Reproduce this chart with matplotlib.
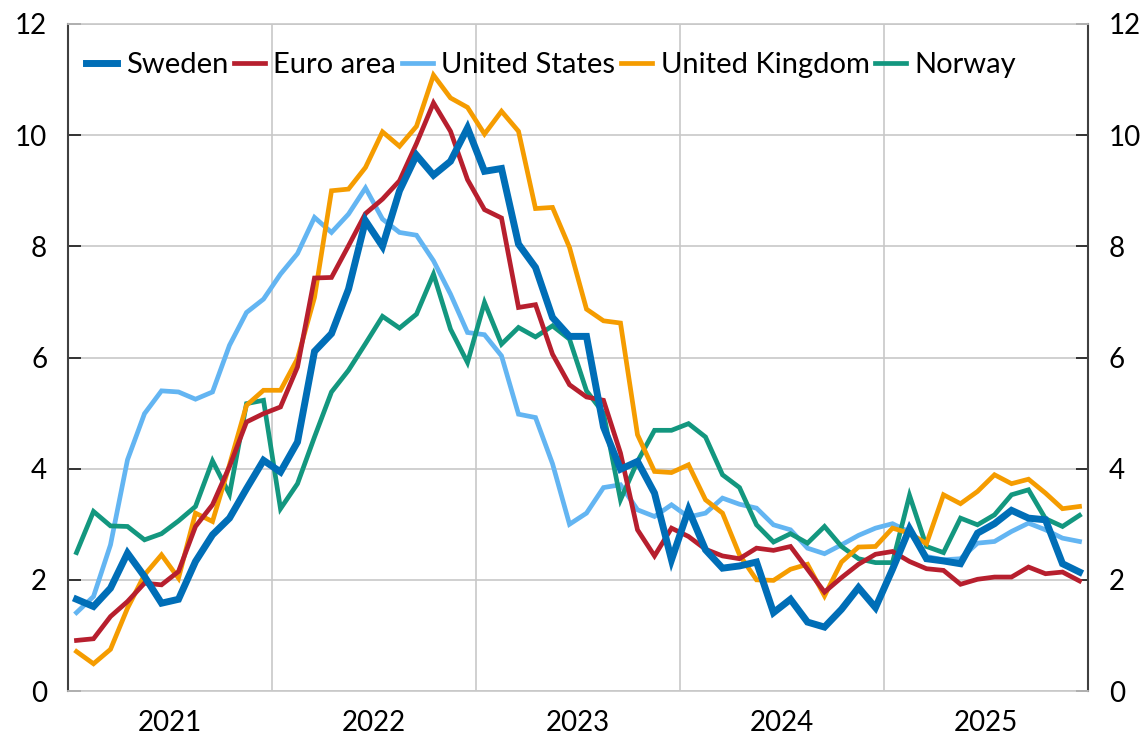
import matplotlib
matplotlib.use("Agg")
import matplotlib.pyplot as plt
import numpy as np

years = ["2021", "2022", "2023", "2024", "2025"]

sweden = [1.65, 1.52, 1.85, 2.48, 2.06, 1.58, 1.65, 2.33, 2.81, 3.11, 3.64, 4.15,
          3.94, 4.48, 6.11, 6.43, 7.23, 8.46, 8.00, 9.00, 9.64, 9.28, 9.53, 10.13,
          9.35, 9.40, 8.04, 7.62, 6.72, 6.38, 6.38, 4.75, 3.99, 4.13, 3.56, 2.36,
          3.26, 2.54, 2.21, 2.25, 2.32, 1.41, 1.65, 1.24, 1.15, 1.47, 1.86, 1.50,
          2.19, 2.92, 2.38, 2.34, 2.29, 2.84, 3.01, 3.25, 3.11, 3.08, 2.29, 2.14]

euro_area = [0.91, 0.94, 1.34, 1.61, 1.94, 1.91, 2.15, 2.96, 3.35, 4.04, 4.84, 4.99,
             5.11, 5.83, 7.43, 7.44, 8.01, 8.59, 8.85, 9.18, 9.85, 10.58, 10.07, 9.20,
             8.66, 8.51, 6.90, 6.95, 6.06, 5.51, 5.29, 5.23, 4.28, 2.90, 2.43, 2.93,
             2.78, 2.55, 2.43, 2.38, 2.57, 2.53, 2.60, 2.19, 1.78, 2.04, 2.28, 2.46,
             2.51, 2.33, 2.20, 2.17, 1.92, 2.01, 2.05, 2.05, 2.23, 2.11, 2.14, 1.98]

united_states = [1.41, 1.70, 2.63, 4.16, 4.99, 5.40, 5.38, 5.25, 5.38, 6.22, 6.81, 7.05,
                 7.50, 7.87, 8.52, 8.25, 8.58, 9.05, 8.49, 8.25, 8.20, 7.74, 7.14, 6.45,
                 6.41, 6.03, 4.98, 4.92, 4.09, 3.00, 3.20, 3.66, 3.71, 3.26, 3.14, 3.35,
                 3.13, 3.20, 3.47, 3.36, 3.29, 2.99, 2.90, 2.57, 2.47, 2.63, 2.80, 2.93,
                 3.01, 2.86, 2.42, 2.36, 2.38, 2.66, 2.69, 2.87, 3.02, 2.90, 2.75, 2.69]

united_kingdom = [0.71, 0.49, 0.75, 1.49, 2.09, 2.45, 2.03, 3.20, 3.05, 4.07, 5.14, 5.41,
                  5.41, 5.98, 7.08, 9.00, 9.03, 9.42, 10.06, 9.80, 10.16, 11.08, 10.67, 10.50,
                  10.02, 10.43, 10.07, 8.68, 8.70, 7.98, 6.87, 6.66, 6.62, 4.61, 3.95, 3.93,
                  4.07, 3.44, 3.20, 2.45, 2.00, 1.99, 2.19, 2.28, 1.71, 2.32, 2.59, 2.60,
                  2.93, 2.84, 2.65, 3.53, 3.37, 3.59, 3.89, 3.73, 3.81, 3.56, 3.28, 3.32]

norway = [2.49, 3.23, 2.97, 2.96, 2.72, 2.83, 3.06, 3.32, 4.14, 3.54, 5.17, 5.23,
          3.28, 3.73, 4.57, 5.38, 5.77, 6.25, 6.74, 6.53, 6.78, 7.50, 6.51, 5.91,
          6.99, 6.24, 6.54, 6.37, 6.57, 6.33, 5.40, 5.00, 3.44, 4.13, 4.69, 4.69,
          4.81, 4.57, 3.89, 3.66, 2.99, 2.68, 2.83, 2.66, 2.96, 2.60, 2.38, 2.31,
          2.31, 3.52, 2.60, 2.49, 3.11, 2.99, 3.17, 3.53, 3.62, 3.10, 2.96, 3.16]

plt.rcParams['font.family'] = ['Lato', 'DejaVu Sans']

fig = plt.figure(figsize=(11.45, 7.44), dpi=100)
ax = fig.add_axes([68/1145, 1 - 691/744, (1088-68)/1145, (691-24)/744])

n = len(sweden)
x = np.arange(n) + 0.5

series = [
    ("United States", united_states, "#63B5F2", 3.4, 2),
    ("Norway", norway, "#13977F", 3.4, 3),
    ("United Kingdom", united_kingdom, "#F59C00", 3.4, 4),
    ("Euro area", euro_area, "#B71F2E", 3.4, 5),
    ("Sweden", sweden, "#006EB7", 5.0, 6),
]
handles = {}
for name, vals, col, lw, z in series:
    ln, = ax.plot(x, vals, color=col, lw=lw, zorder=z, solid_joinstyle='miter')
    handles[name] = ln

order = ["Sweden", "Euro area", "United States", "United Kingdom", "Norway"]
leg = ax.legend([handles[k] for k in order], order, loc='upper left', ncol=5,
                frameon=False, fontsize=21, handlelength=1.05, handletextpad=0.3,
                columnspacing=0.2, bbox_to_anchor=(-0.002, 0.988), borderaxespad=0.3)

ax.set_xlim(0, n)
ax.set_ylim(0, 12)
ax.set_yticks(np.arange(0, 13, 2))
ax.set_xticks(np.arange(0, n + 1, 12))
ax.set_xticklabels([])
ax.set_xticks(np.arange(len(years)) * 12 + 6, minor=True)
ax.set_xticklabels(years, minor=True)
ax.tick_params(axis='x', which='both', length=0, labelsize=20, pad=14)
ax.tick_params(axis='y', which='major', direction='in', length=9, width=1.3,
               left=True, right=True, labelleft=True, labelright=True,
               labelsize=20, pad=15, color='#262626')
ax.grid(True, which='major', color='#C8C8C8', lw=1.2)
ax.set_axisbelow(True)
for s in ['left', 'right']:
    ax.spines[s].set_color('#404040')
    ax.spines[s].set_linewidth(1.5)
for s in ['top', 'bottom']:
    ax.spines[s].set_color('#C8C8C8')
    ax.spines[s].set_linewidth(1.2)

fig.savefig("out.png", dpi=100)
